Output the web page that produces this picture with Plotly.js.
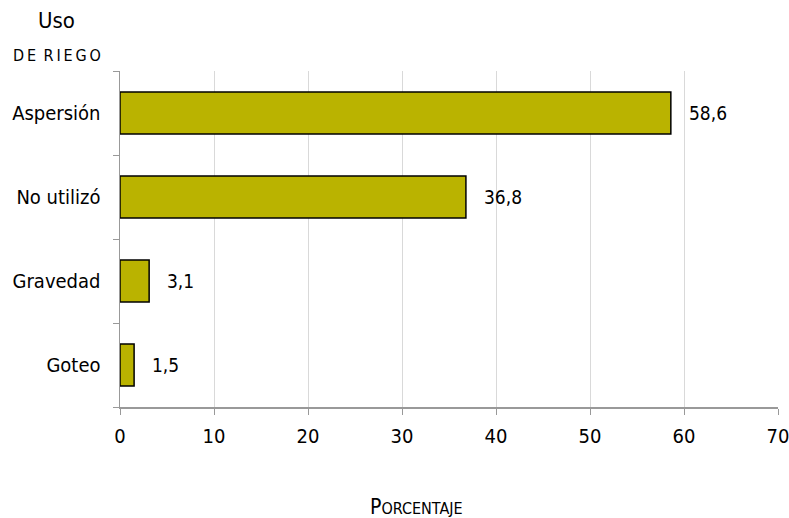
<!DOCTYPE html>
<html>
<head>
<meta charset="utf-8">
<script src="https://cdn.plot.ly/plotly-3.0.1.min.js"></script>
<style>html,body{margin:0;padding:0;background:#fff;}#chart{width:789px;height:518px;}</style>
</head>
<body>
<div id="chart"></div>
<script>
const categories = ["Goteo", "Gravedad", "No utilizó", "Aspersión"];
const values = [1.5, 3.1, 36.8, 58.6];
const valueLabels = ["1,5", "3,1", "36,8", "58,6"];
const xTicks = [0, 10, 20, 30, 40, 50, 60, 70];

const FONT = "'Liberation Sans Narrow', 'DejaVu Sans Condensed', sans-serif";
const barColor = "#bab300";

const trace = {
  type: "bar",
  orientation: "h",
  y: categories,
  x: values,
  width: 0.5,
  marker: {color: barColor, line: {color: "#000", width: 1.5}},
  hoverinfo: "none"
};

const annotations = values.map((v, i) => ({
  x: v, y: categories[i], xref: "x", yref: "y",
  text: valueLabels[i], showarrow: false, xanchor: "left", xshift: 16,
  font: {family: FONT, size: 19, color: "#000"}
}));
annotations.push({
  xref: "paper", yref: "paper", x: -0.096, y: 1.0, yshift: 51, xanchor: "center", yanchor: "middle",
  text: "Uso", showarrow: false, font: {family: FONT, size: 22, color: "#000"}
});
annotations.push({
  xref: "paper", yref: "paper", x: -0.096, y: 1.0, yshift: 16, xanchor: "center", yanchor: "middle",
  text: "D\u2009E\u2009 R\u2009I\u2009E\u2009G\u2009O", showarrow: false, font: {family: FONT, size: 16, color: "#000"}
});
annotations.push({
  xref: "paper", yref: "paper", x: 0.45, y: 0, yshift: -100, xanchor: "center", yanchor: "middle",
  text: "P<span style='font-size:16px'>ORCENTAJE</span>", showarrow: false,
  font: {family: FONT, size: 21, color: "#000"}
});

const layout = {
  width: 789, height: 518,
  margin: {l: 120, r: 11, t: 71, b: 111},
  paper_bgcolor: "#fff", plot_bgcolor: "#fff",
  showlegend: false,
  xaxis: {
    range: [0, 70], tickvals: xTicks, ticktext: xTicks.map(String),
    showgrid: true, gridcolor: "#d9d9d9", gridwidth: 1,
    zeroline: false, showline: true, linecolor: "#999", linewidth: 1.5,
    ticks: "outside", ticklen: 6, tickcolor: "#999",
    ticklabeloverflow: "allow", ticklabelstandoff: 4,
    tickfont: {family: FONT, size: 20, color: "#000"}
  },
  yaxis: {
    type: "category", categoryorder: "array", categoryarray: categories,
    showgrid: false, zeroline: false, showline: true, linecolor: "#999", linewidth: 1.5,
    ticks: "outside", tickson: "boundaries", ticklen: 6, tickcolor: "#999",
    ticklabelstandoff: 14,
    tickfont: {family: FONT, size: 20, color: "#000"}
  },
  annotations: annotations
};

Plotly.newPlot("chart", [trace], layout, {displayModeBar: false, staticPlot: true});
</script>
</body>
</html>
